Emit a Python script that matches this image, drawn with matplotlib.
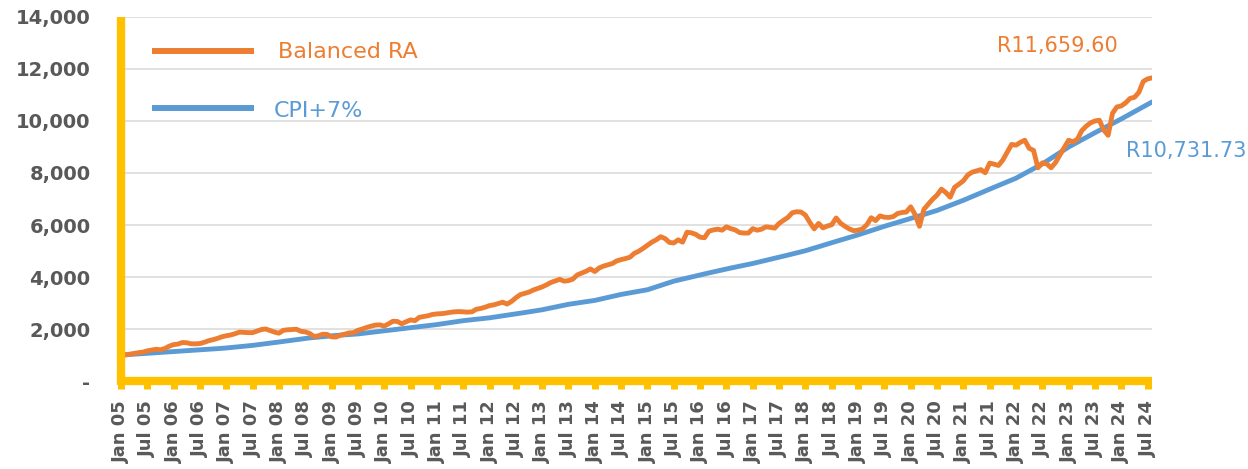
import numpy as np
import matplotlib
matplotlib.use("Agg")
import matplotlib.pyplot as plt

# ======================================
# DATA (monthly, Jan 05 - Aug 24, growth of R1,000)
# ======================================

balanced_ra = [
    1000, 1000, 1030, 1060, 1090, 1110, 1160, 1190, 1220, 1200, 1250, 1340,
    1400, 1420, 1480, 1470, 1430, 1430, 1440, 1490, 1550, 1590, 1640, 1700,
    1740, 1770, 1820, 1880, 1870, 1860, 1860, 1920, 1980, 2000, 1940, 1880,
    1840, 1950, 1970, 1980, 1990, 1910, 1890, 1830, 1710, 1740, 1800, 1790,
    1700, 1690, 1760, 1800, 1850, 1860, 1950, 2000, 2060, 2110, 2150, 2160,
    2110, 2200, 2300, 2290, 2200, 2280, 2350, 2320, 2450, 2480, 2510, 2560,
    2580, 2590, 2610, 2640, 2660, 2670, 2660, 2650, 2660, 2760, 2790, 2840,
    2900, 2930, 2980, 3030, 2960, 3060, 3200, 3320, 3370, 3420, 3500, 3560,
    3620, 3700, 3790, 3850, 3910, 3840, 3860, 3920, 4080, 4150, 4220, 4310,
    4210, 4350, 4420, 4470, 4520, 4620, 4670, 4710, 4760, 4910, 4990, 5100,
    5220, 5340, 5430, 5550, 5480, 5330, 5310, 5430, 5340, 5720, 5700, 5640,
    5530, 5510, 5760, 5810, 5840, 5800, 5930, 5860, 5810, 5710, 5690, 5690,
    5860, 5800, 5840, 5930, 5910, 5880, 6060, 6180, 6290, 6470, 6510, 6500,
    6380, 6100, 5850, 6060, 5890, 5960, 6010, 6270, 6070, 5950, 5850, 5780,
    5800, 5850, 6010, 6280, 6170, 6350, 6300, 6290, 6320, 6440, 6480, 6500,
    6700, 6400, 5950, 6600, 6800, 6990, 7150, 7380, 7250, 7070, 7450, 7570,
    7700, 7920, 8030, 8080, 8130, 8010, 8380, 8340, 8290, 8500, 8800, 9100,
    9070, 9180, 9260, 8950, 8870, 8200, 8390, 8350, 8200, 8400, 8690, 8980,
    9260, 9200, 9300, 9630, 9800, 9930, 10000, 10030, 9650, 9450, 10300, 10540,
    10580, 10700, 10870, 10910, 11100, 11520, 11620, 11659.60,
]

cpi_plus_7 = [
    1000, 1010, 1020, 1032, 1043, 1054, 1065, 1076, 1087, 1097, 1108, 1119,
    1130, 1140, 1151, 1162, 1173, 1184, 1195, 1207, 1220, 1232, 1245, 1257,
    1270, 1286, 1302, 1319, 1336, 1353, 1370, 1391, 1413, 1435, 1456, 1478,
    1500, 1523, 1546, 1570, 1594, 1617, 1640, 1657, 1673, 1690, 1707, 1723,
    1740, 1752, 1763, 1775, 1787, 1798, 1810, 1830, 1850, 1870, 1890, 1910,
    1930, 1950, 1970, 1990, 2010, 2030, 2050, 2070, 2090, 2110, 2130, 2150,
    2170, 2195, 2220, 2245, 2270, 2295, 2320, 2338, 2357, 2375, 2393, 2412,
    2430, 2455, 2480, 2505, 2530, 2555, 2580, 2607, 2633, 2660, 2687, 2713,
    2740, 2775, 2810, 2845, 2880, 2915, 2950, 2975, 3000, 3025, 3050, 3075,
    3100, 3138, 3177, 3215, 3253, 3292, 3330, 3360, 3390, 3420, 3450, 3480,
    3510, 3565, 3620, 3675, 3730, 3785, 3840, 3880, 3920, 3960, 4000, 4040,
    4080, 4118, 4157, 4195, 4233, 4272, 4310, 4345, 4380, 4415, 4450, 4485,
    4520, 4560, 4600, 4640, 4680, 4720, 4760, 4802, 4843, 4885, 4927, 4968,
    5010, 5062, 5113, 5165, 5217, 5268, 5320, 5370, 5420, 5470, 5520, 5570,
    5620, 5675, 5730, 5785, 5840, 5895, 5950, 6000, 6050, 6100, 6150, 6200,
    6250, 6302, 6353, 6405, 6457, 6508, 6560, 6625, 6690, 6755, 6820, 6885,
    6950, 7022, 7093, 7165, 7237, 7308, 7380, 7450, 7520, 7590, 7660, 7730,
    7800, 7892, 7983, 8075, 8167, 8258, 8350, 8458, 8567, 8675, 8783, 8892,
    9000, 9092, 9183, 9275, 9367, 9458, 9550, 9638, 9727, 9815, 9903, 9992,
    10080, 10173, 10266, 10359, 10452, 10545, 10638, 10731.73,
]

tick_labels = [
    "Jan 05", "Jul 05", "Jan 06", "Jul 06", "Jan 07", "Jul 07", "Jan 08", "Jul 08",
    "Jan 09", "Jul 09", "Jan 10", "Jul 10", "Jan 11", "Jul 11", "Jan 12", "Jul 12",
    "Jan 13", "Jul 13", "Jan 14", "Jul 14", "Jan 15", "Jul 15", "Jan 16", "Jul 16",
    "Jan 17", "Jul 17", "Jan 18", "Jul 18", "Jan 19", "Jul 19", "Jan 20", "Jul 20",
    "Jan 21", "Jul 21", "Jan 22", "Jul 22", "Jan 23", "Jul 23", "Jan 24", "Jul 24",
]

y_ticks = [0, 2000, 4000, 6000, 8000, 10000, 12000, 14000]
y_tick_labels = ["-", "2,000", "4,000", "6,000", "8,000", "10,000", "12,000", "14,000"]

ORANGE = "#ED7D31"
BLUE = "#5B9BD5"
YELLOW = "#FFC000"
GREY_TEXT = "#595959"
GRID = "#D9D9D9"

months = np.arange(len(balanced_ra))

# ======================================
# PLOT
# ======================================

fig = plt.figure(figsize=(12.48, 4.69), dpi=100)
ax = fig.add_axes([121 / 1248, 88 / 469, 1031 / 1248, 364 / 469])

ax.plot(months, cpi_plus_7, color=BLUE, lw=3.5, solid_joinstyle="round",
        solid_capstyle="round", zorder=3)
ax.plot(months, balanced_ra, color=ORANGE, lw=3.5, solid_joinstyle="round",
        solid_capstyle="round", zorder=4)

ax.set_xlim(0, len(balanced_ra) - 1)
ax.set_ylim(0, 14000)

ax.set_yticks(y_ticks)
ax.set_yticklabels(y_tick_labels)
ax.set_xticks(np.arange(0, len(tick_labels) * 6, 6))
ax.set_xticklabels(tick_labels, rotation=90)

ax.grid(axis="y", color=GRID, lw=1.1, zorder=0)
ax.set_axisbelow(True)

for side in ["top", "right"]:
    ax.spines[side].set_visible(False)
for side in ["left", "bottom"]:
    ax.spines[side].set_color(YELLOW)
    ax.spines[side].set_linewidth(6)
    ax.spines[side].set_capstyle("butt")
    ax.spines[side].set_zorder(5)
# let the y axis run down to close the corner with the x axis
ax.spines["left"].set_bounds(-170, 14000)

ax.tick_params(axis="y", length=0, pad=22, labelsize=14, labelcolor=GREY_TEXT)
ax.tick_params(axis="x", direction="out", length=6, width=5, color=YELLOW,
               pad=8, labelsize=13, labelcolor=GREY_TEXT)
for lab in ax.get_xticklabels() + ax.get_yticklabels():
    lab.set_fontweight("bold")

# legend drawn by hand (top left inside the plot)
ax.plot([0.030, 0.129], [0.9066, 0.9066], transform=ax.transAxes, color=ORANGE,
        lw=4.3, solid_capstyle="butt", zorder=6)
ax.text(0.152, 0.904, "Balanced RA", transform=ax.transAxes, color=ORANGE,
        fontsize=16, va="center", ha="left")
ax.plot([0.030, 0.129], [0.75, 0.75], transform=ax.transAxes, color=BLUE,
        lw=4.3, solid_capstyle="butt", zorder=6)
ax.text(0.1484, 0.742, "CPI+7%", transform=ax.transAxes, color=BLUE,
        fontsize=16, va="center", ha="left")

# end values
ax.text(0.908, 0.919, "R11,659.60", transform=ax.transAxes, color=ORANGE,
        fontsize=15, va="center", ha="center", clip_on=False)
ax.text(1.033, 0.6305, "R10,731.73", transform=ax.transAxes, color=BLUE,
        fontsize=15, va="center", ha="center", clip_on=False)

fig.savefig("out.png", dpi=100)
